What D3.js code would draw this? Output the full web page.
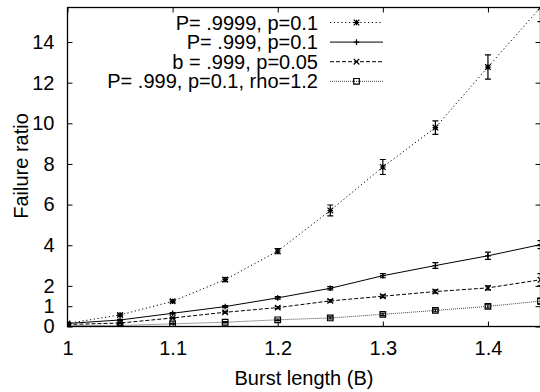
<!DOCTYPE html>
<html>
<head>
<meta charset="utf-8">
<script src="https://cdn.jsdelivr.net/npm/d3@7"></script>
<style>
  body { margin: 0; background: #fff; }
  text { font-family: "Liberation Sans", Arial, sans-serif; fill: #000; }
</style>
</head>
<body>
<div id="chart"></div>
<script>
const burst = [1, 1.05, 1.1, 1.15, 1.2, 1.25, 1.3, 1.35, 1.4, 1.45];
const s9999 = [0.15, 0.57, 1.24, 2.31, 3.71, 5.71, 7.85, 9.79, 12.77, 15.7];
const s9999Err = [0.04, 0.05, 0.07, 0.1, 0.13, 0.27, 0.37, 0.33, 0.6, 0.7];
const s999 = [0.15, 0.32, 0.65, 0.98, 1.41, 1.88, 2.5, 3.0, 3.48, 4.03];
const s999Err = [0.02, 0.03, 0.04, 0.05, 0.06, 0.08, 0.1, 0.14, 0.18, 0.2];
const sB999 = [0.1, 0.17, 0.42, 0.7, 0.93, 1.26, 1.49, 1.72, 1.9, 2.3];
const sB999Err = [0.02, 0.02, 0.03, 0.04, 0.05, 0.06, 0.07, 0.08, 0.1, 0.3];
const sRho = [0.05, 0.05, 0.13, 0.21, 0.33, 0.42, 0.6, 0.79, 0.99, 1.25];
const sRhoErr = [0.01, 0.01, 0.02, 0.03, 0.04, 0.05, 0.06, 0.07, 0.08, 0.15];
const xTicks = [1, 1.1, 1.2, 1.3, 1.4];
const yTicks = [0, 1, 2, 4, 6, 8, 10, 12, 14];
const labels = ['P= .9999, p=0.1', 'P= .999, p=0.1', 'b = .999, p=0.05', 'P= .999, p=0.1, rho=1.2'];

const chartWidth = 540;
const chartHeight = 392;
const plotLeft = 67.5, plotRight = 540.5, plotTop = 7.5, plotBottom = 326.5;
const fontSize = '20px';

const series = [
    { name: labels[0], values: s9999, err: s9999Err, dash: '1.2,2.6', color: '#000', marker: 'star' },
    { name: labels[1], values: s999, err: s999Err, dash: null, color: '#000', marker: 'plus' },
    { name: labels[2], values: sB999, err: sB999Err, dash: '4,2', color: '#000', marker: 'cross' },
    { name: labels[3], values: sRho, err: sRhoErr, dash: '1,1', color: '#444', marker: 'square' }
];

const svg = d3.select('#chart')
    .append('svg')
    .attr('width', chartWidth)
    .attr('height', chartHeight);

const xScale = d3.scaleLinear()
    .domain([1, 1.45])
    .range([plotLeft, plotRight]);

const yScale = d3.scaleLinear()
    .domain([0, 15.7])
    .range([plotBottom, plotTop]);

svg.append('clipPath')
    .attr('id', 'plot-clip')
    .append('rect')
    .attr('x', plotLeft)
    .attr('y', plotTop)
    .attr('width', plotRight - plotLeft)
    .attr('height', plotBottom - plotTop);

// axes, ticks point inward like gnuplot
const xAxis = d3.axisBottom(xScale).tickValues(xTicks).tickSize(-5).tickPadding(14).tickFormat(d3.format('~g'));
const yAxis = d3.axisLeft(yScale).tickValues(yTicks).tickSize(-5).tickPadding(13);

const gx = svg.append('g')
    .attr('transform', 'translate(0,' + plotBottom + ')')
    .call(xAxis);
const gy = svg.append('g')
    .attr('transform', 'translate(' + plotLeft + ',0)')
    .call(yAxis);

[gx, gy].forEach(g => {
    g.select('.domain').remove();
    g.selectAll('.tick line').attr('stroke', '#000');
    g.selectAll('.tick text').style('font-size', fontSize);
});

// mirrored ticks on top and right
svg.append('g')
    .attr('transform', 'translate(0,' + plotTop + ')')
    .call(d3.axisTop(xScale).tickValues(xTicks).tickSize(-5).tickFormat(''))
    .call(g => g.select('.domain').remove());
svg.append('g')
    .attr('transform', 'translate(' + plotRight + ',0)')
    .call(d3.axisRight(yScale).tickValues(yTicks).tickSize(-5).tickFormat(''))
    .call(g => g.select('.domain').remove());

svg.append('rect')
    .attr('x', plotLeft)
    .attr('y', plotTop)
    .attr('width', plotRight - plotLeft)
    .attr('height', plotBottom - plotTop)
    .attr('fill', 'none')
    .attr('stroke', '#000')
    .attr('stroke-width', 1.3);

function drawMarker(g, type, cx, cy, color) {
    const r = 2.8;
    const p = d3.path();
    if (type === 'plus' || type === 'star') {
        p.moveTo(cx - r, cy); p.lineTo(cx + r, cy);
        p.moveTo(cx, cy - r); p.lineTo(cx, cy + r);
    }
    if (type === 'cross' || type === 'star') {
        p.moveTo(cx - r, cy - r); p.lineTo(cx + r, cy + r);
        p.moveTo(cx - r, cy + r); p.lineTo(cx + r, cy - r);
    }
    if (type === 'square') {
        p.rect(cx - r, cy - r, 2 * r, 2 * r);
    }
    g.append('path')
        .attr('d', p.toString())
        .attr('fill', 'none')
        .attr('stroke', color)
        .attr('stroke-width', 1.2);
}

const plot = svg.append('g').attr('clip-path', 'url(#plot-clip)');

const line = d3.line()
    .x((d, i) => xScale(burst[i]))
    .y(d => yScale(d));

series.slice().reverse().forEach(s => {
    const g = plot.append('g');
    g.append('path')
        .datum(s.values)
        .attr('d', line)
        .attr('fill', 'none')
        .attr('stroke', s.color)
        .attr('stroke-width', 1)
        .attr('stroke-dasharray', s.dash);

    // error bars
    g.selectAll('.err')
        .data(s.values)
        .enter()
        .append('path')
        .attr('d', (d, i) => {
            const x = xScale(burst[i]);
            const y0 = yScale(d - s.err[i]);
            const y1 = yScale(d + s.err[i]);
            return 'M' + x + ',' + y0 + 'V' + y1 +
                'M' + (x - 3) + ',' + y0 + 'H' + (x + 3) +
                'M' + (x - 3) + ',' + y1 + 'H' + (x + 3);
        })
        .attr('fill', 'none')
        .attr('stroke', '#000')
        .attr('stroke-width', 1.2);

    s.values.forEach((d, i) => drawMarker(g, s.marker, xScale(burst[i]), yScale(d), '#000'));
});

// legend
const legend = svg.append('g');
series.forEach((s, i) => {
    const y = 22.5 + i * 19.6;
    legend.append('text')
        .attr('x', 318)
        .attr('y', y)
        .attr('dy', '0.35em')
        .attr('text-anchor', 'end')
        .style('font-size', fontSize)
        .text(s.name);
    legend.append('line')
        .attr('x1', 330)
        .attr('x2', 383)
        .attr('y1', y)
        .attr('y2', y)
        .attr('stroke', s.color)
        .attr('stroke-width', 1)
        .attr('stroke-dasharray', s.dash);
    drawMarker(legend, s.marker, 356.5, y, '#000');
});

// axis titles
svg.append('text')
    .attr('x', (plotLeft + plotRight) / 2)
    .attr('y', 385)
    .attr('text-anchor', 'middle')
    .style('font-size', fontSize)
    .text('Burst length (B)');

svg.append('text')
    .attr('transform', 'translate(21,' + 166 + ') rotate(-90)')
    .attr('dy', '0.35em')
    .attr('text-anchor', 'middle')
    .style('font-size', fontSize)
    .text('Failure ratio');
</script>
</body>
</html>
